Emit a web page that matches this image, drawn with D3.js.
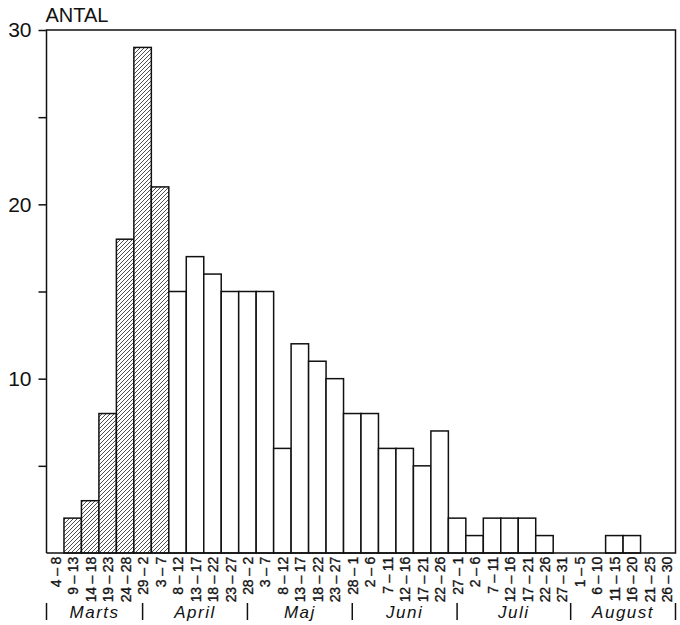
<!DOCTYPE html>
<html>
<head>
<meta charset="utf-8">
<script src="https://cdn.jsdelivr.net/npm/d3@7/dist/d3.min.js"></script>
<style>
  body { margin: 0; background: #fff; }
  svg { display: block; }
  text { font-family: "Liberation Sans", Arial, sans-serif; fill: #111; }
</style>
</head>
<body>
<svg id="chart" width="680" height="625"></svg>
<script>
// pentads (5-day periods) from 4 March to 30 August
const pentads = ["4 – 8","9 – 13","14 – 18","19 – 23","24 – 28","29 – 2","3 – 7",
  "8 – 12","13 – 17","18 – 22","23 – 27","28 – 2","3 – 7",
  "8 – 12","13 – 17","18 – 22","23 – 27","28 – 1","2 – 6",
  "7 – 11","12 – 16","17 – 21","22 – 26","27 – 1","2 – 6",
  "7 – 11","12 – 16","17 – 21","22 – 26","27 – 31","1 – 5",
  "6 – 10","11 – 15","16 – 20","21 – 25","26 – 30"];
const counts = [0,2,3,8,18,29,21,
  15,17,16,15,15,15,
  6,12,11,10,8,8,
  6,6,5,7,2,1,
  2,2,2,1,0,0,
  0,1,1,0,0];
// the first bars are drawn hatched
const hatchedCount = 7;

const months = ["Marts","April","Maj","Juni","Juli","August"];
// month boundaries, in pentad units
const monthBounds = [0, 5.5, 11.5, 17.5, 23.5, 30, 36];

const yTicks = [5,10,15,20,25,30];

let svg = d3.select("#chart");
let plotLeft = 46.5, plotRight = 675.5, plotTop = 30, plotBottom = 553;

let x = d3.scaleBand()
  .domain(d3.range(pentads.length))
  .range([plotLeft, plotRight])
  .padding(0);
let xm = d3.scaleLinear().domain([0, pentads.length]).range([plotLeft, plotRight]);
let y = d3.scaleLinear().domain([0, 30]).range([plotBottom, plotTop]);

// hatch pattern
let pat = svg.append("defs").append("pattern")
  .attr("id", "hatch")
  .attr("patternUnits", "userSpaceOnUse")
  .attr("width", 4).attr("height", 4);
pat.append("rect").attr("width", 4).attr("height", 4).attr("fill", "#fff");
pat.append("path")
  .attr("d", "M-1,1 l2,-2 M0,4 l4,-4 M3,5 l2,-2")
  .attr("stroke", "#222").attr("stroke-width", 0.8);

// bars
svg.append("g").selectAll("rect")
  .data(counts.map((c, i) => ({i: i, c: c})).filter(d => d.c > 0))
  .enter()
  .append("rect")
  .attr("x", d => x(d.i))
  .attr("y", d => y(d.c))
  .attr("width", x.bandwidth())
  .attr("height", d => y(0) - y(d.c))
  .attr("fill", d => d.i < hatchedCount ? "url(#hatch)" : "#fff")
  .attr("stroke", "#111")
  .attr("stroke-width", 1.5);

// frame
svg.append("path")
  .attr("d", `M${plotLeft},${plotBottom}V${plotTop}H${plotRight}V${plotBottom}H${plotLeft}`)
  .attr("fill", "none")
  .attr("stroke", "#111")
  .attr("stroke-width", 1.5);

// y axis
let yAxis = svg.append("g")
  .attr("transform", `translate(${plotLeft},0)`)
  .call(d3.axisLeft(y).tickValues(yTicks).tickSize(8)
    .tickFormat(d => d % 10 ? "" : d));
yAxis.select(".domain").remove();
yAxis.selectAll("line").attr("stroke", "#111").attr("stroke-width", 1.5);
yAxis.selectAll("text")
  .attr("x", -15)
  .style("font-size", "21px")
  .style("font-family", "Liberation Sans, Arial, sans-serif")
  .attr("fill", "#111");

svg.append("text")
  .attr("x", plotLeft - 1)
  .attr("y", 22)
  .style("font-size", "20px")
  .text("ANTAL");

// pentad labels
svg.append("g").selectAll("text")
  .data(pentads)
  .enter()
  .append("text")
  .attr("transform", (d, i) => `translate(${x(i) + x.bandwidth() / 2 + 0.5},557) rotate(-90)`)
  .attr("text-anchor", "end")
  .attr("dy", "0.36em")
  .style("font-size", "14px")
  .style("letter-spacing", "-0.2px")
  .attr("stroke", "#111")
  .attr("stroke-width", 0.35)
  .text(d => d);

// month separators and names
svg.append("g").selectAll("line")
  .data(monthBounds)
  .enter()
  .append("line")
  .attr("x1", d => xm(d)).attr("x2", d => xm(d))
  .attr("y1", 603).attr("y2", 620)
  .attr("stroke", "#111")
  .attr("stroke-width", 1.5);

svg.append("g").selectAll("text")
  .data(months)
  .enter()
  .append("text")
  .attr("x", (d, i) => (xm(monthBounds[i]) + xm(monthBounds[i + 1])) / 2)
  .attr("y", 618)
  .attr("text-anchor", "middle")
  .style("font-size", "17px")
  .style("font-style", "italic")
  .style("letter-spacing", "1.5px")
  .text(d => d);
</script>
</body>
</html>
